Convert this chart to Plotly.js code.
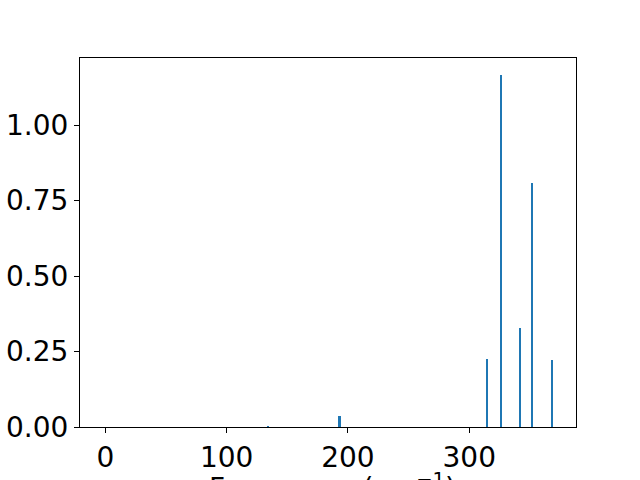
<!DOCTYPE html>
<html>
<head>
<meta charset="utf-8">
<script src="https://cdn.plot.ly/plotly-3.0.1.min.js"></script>
<style>html,body{margin:0;padding:0;background:#fff;}#chart{width:640px;height:480px;}</style>
</head>
<body>
<div id="chart"></div>
<script>
const frequencies = [134.4, 193.0, 314.4, 326.2, 341.9, 351.5, 368.3];
const intensities = [0.003, 0.037, 0.225, 1.166, 0.328, 0.807, 0.222];
const xTickVals = [0, 100, 200, 300];
const yTickVals = [0, 0.25, 0.5, 0.75, 1.0];
const yTickText = ["0.00", "0.25", "0.50", "0.75", "1.00"];
const xAxisLabel = 'Frequency (cm<sup>−1</sup>)';

const trace = {
  type: 'bar',
  x: frequencies,
  y: intensities,
  width: frequencies.map(() => 1.8),
  marker: {color: '#1f77b4', line: {width: 0}},
  hoverinfo: 'x+y'
};

const axisFont = {family: 'DejaVu Sans', size: 28, color: '#000'};

const layout = {
  width: 640, height: 480,
  margin: {l: 80, r: 64, t: 58, b: 53},
  paper_bgcolor: '#fff', plot_bgcolor: '#fff',
  showlegend: false,
  bargap: 0,
  xaxis: {
    range: [-20.9, 388],
    tickvals: xTickVals,
    ticks: 'outside', ticklen: 5, tickwidth: 1, tickcolor: '#000',
    showline: true, linecolor: '#000', linewidth: 1, mirror: true,
    showgrid: false, zeroline: false, automargin: false,
    tickfont: axisFont
  },
  yaxis: {
    range: [0, 1.222],
    tickvals: yTickVals, ticktext: yTickText,
    ticks: 'outside', ticklen: 5, tickwidth: 1, tickcolor: '#000',
    showline: true, linecolor: '#000', linewidth: 1, mirror: true,
    showgrid: false, zeroline: false, automargin: false,
    tickfont: axisFont
  },
  annotations: [{
    text: xAxisLabel,
    xref: 'paper', yref: 'paper', x: 0.5, y: 0,
    xanchor: 'center', yanchor: 'top', yshift: -39, xshift: 4,
    showarrow: false, font: axisFont
  }]
};

Plotly.newPlot('chart', [trace], layout, {displayModeBar: false, staticPlot: true});
</script>
</body>
</html>
